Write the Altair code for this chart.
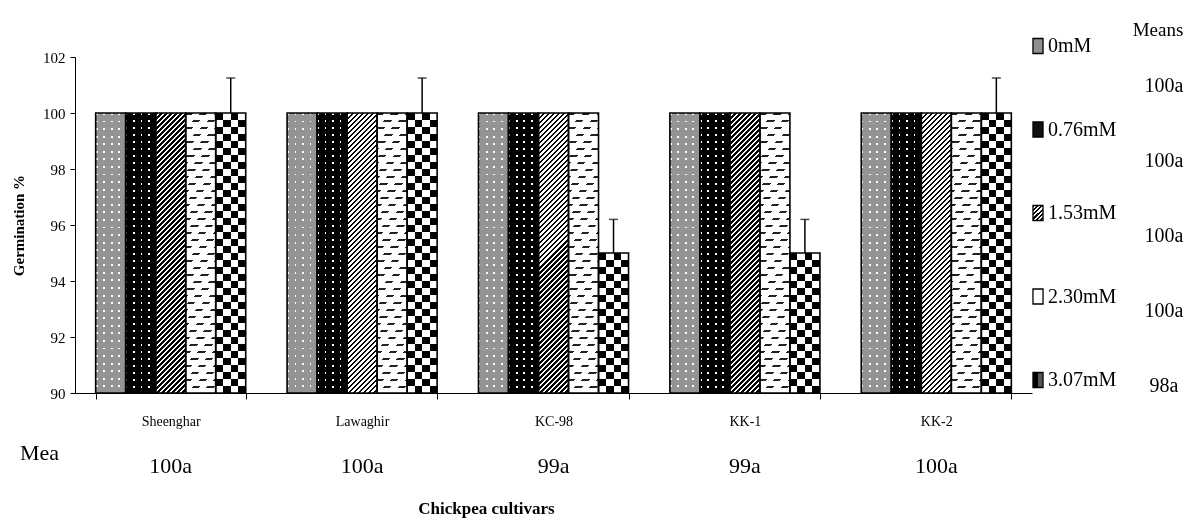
import altair as alt
import pandas as pd

# ---------------- data ----------------
cultivars = ["Sheenghar", "Lawaghir", "KC-98", "KK-1", "KK-2"]
treatments = ["0mM", "0.76mM", "1.53mM", "2.30mM", "3.07mM"]
germ_0mM = [100, 100, 100, 100, 100]
germ_076mM = [100, 100, 100, 100, 100]
germ_153mM = [100, 100, 100, 100, 100]
germ_230mM = [100, 100, 100, 100, 100]
germ_307mM = [100, 100, 95, 95, 100]
se_307mM = [1.25, 1.25, 1.2, 1.2, 1.25]
cultivar_means = ["100a", "100a", "99a", "99a", "100a"]
treatment_means = ["100a", "100a", "100a", "100a", "98a"]
y_ticks = [90, 92, 94, 96, 98, 100, 102]

series = dict(zip(treatments, [germ_0mM, germ_076mM, germ_153mM, germ_230mM, germ_307mM]))
errors = {"3.07mM": se_307mM}
rows = []
for t, vals in series.items():
    for c, v, e in zip(cultivars, vals, errors.get(t, [0] * len(cultivars))):
        rows.append({"cultivar": c, "treatment": t, "value": v, "err": e})
df = pd.DataFrame(rows)
cm_df = pd.DataFrame({"cultivar": cultivars, "mean": cultivar_means})
leg_df = pd.DataFrame({"treatment": treatments, "mean": treatment_means})

# ---------------- layout / style ----------------
FONT = "Liberation Serif"
W, H = 957, 336
Y_MIN, Y_MAX = 90, 102
P_IN, P_OUT = 0.216, 0.108
STEP = W / (len(cultivars) - P_IN + 2 * P_OUT)
BAR_W = STEP * (1 - P_IN) / len(treatments)


def bar_h(v):
    return (v - Y_MIN) / (Y_MAX - Y_MIN) * H


def grad(n, frac, on, off, x2, y2):
    stops = []
    for i in range(n):
        a, b, c = i / n, (i + frac) / n, (i + 1) / n
        stops += [(a, on), (b, on), (b, off), (c, off)]
    return alt.LinearGradient(
        gradient="linear",
        stops=[alt.GradientStop(offset=o, color=col) for o, col in stops],
        x1=0, y1=0, x2=x2, y2=y2,
    )


def xstripes(w, period, frac, on, off):
    return grad(max(1, round(w / period)), frac, on, off, 1, 0)


def ystripes(h, period, frac, on, off):
    return grad(max(1, round(h / period)), frac, on, off, 0, 1)


def diag(w, h, period_x, frac, on, off):
    a, b = w / h, 1.0
    k = (a + b) / (a * a + b * b)
    span = k * (a * a + b * b) / ((a / w) ** 2 + (b / h) ** 2) ** 0.5
    n = max(1, round(span / (period_x / 2 ** 0.5)))
    return grad(n, frac, on, off, a * k, b * k)


X_SCALE = alt.Scale(domain=cultivars, paddingInner=P_IN, paddingOuter=P_OUT)
XO_SCALE = alt.Scale(domain=treatments, paddingInner=0, paddingOuter=0)
Y_SCALE = alt.Scale(domain=[Y_MIN, Y_MAX], zero=False, nice=False)

X_AXIS = alt.Axis(
    title="Chickpea cultivars", labelAngle=0, tickBand="extent", tickSize=6,
    labelPadding=15, labelFontSize=14, titleFontSize=17, titleFontWeight="bold",
    titleX=411, titleY=115, titleBaseline="middle", titleAlign="center",
)
Y_AXIS = alt.Axis(
    title="Germination %", values=y_ticks, tickSize=5, labelPadding=5,
    labelFontSize=15, titleFontSize=15, titleFontWeight="bold",
    titleX=-57, titleY=H / 2, titleBaseline="middle", titleAlign="center",
)


def xenc():
    return alt.X("cultivar:N", scale=X_SCALE, axis=X_AXIS)


def xoenc():
    return alt.XOffset("treatment:N", scale=XO_SCALE)


def yenc(field="value:Q"):
    return alt.Y(field, scale=Y_SCALE, axis=Y_AXIS)


def bars(data, fill, blend=None):
    kw = {"fill": fill}
    if blend:
        kw["blend"] = blend
    return data.mark_bar(**kw).encode(
        x=xenc(), xOffset=xoenc(), y=yenc(), y2=alt.datum(Y_MIN)
    )


base = alt.Chart(df)
layers = []
for t in treatments:
    sub = base.transform_filter(alt.datum.treatment == t)
    for v in sorted(set(series[t])):
        part = sub.transform_filter(alt.datum.value == v)
        h = bar_h(v)
        if t == "0mM":
            layers.append(bars(part, xstripes(BAR_W, 7.5, 0.25, "#ffffff", "#949494")))
            layers.append(bars(part, ystripes(h, 7.5, 0.25, "#ffffff", "#949494"), "darken"))
        elif t == "0.76mM":
            layers.append(bars(part, xstripes(BAR_W, 7.5, 0.22, "#ffffff", "#000000")))
            layers.append(bars(part, ystripes(h, 7.0, 0.22, "#ffffff", "#000000"), "darken"))
        elif t == "1.53mM":
            layers.append(bars(part, diag(BAR_W, h, 5.0, 0.5, "#000000", "#ffffff")))
        elif t == "2.30mM":
            layers.append(bars(part, ystripes(h, 7.0, 0.3, "#222222", "#ffffff")))
            layers.append(bars(part, diag(BAR_W, h, 15.0, 0.5, "#000000", "#ffffff"), "lighten"))
        else:
            layers.append(bars(part, xstripes(BAR_W, 15.0, 0.5, "#000000", "#ffffff")))
            layers.append(bars(part, ystripes(h, 14.0, 0.5, "#000000", "#ffffff"), "difference"))

outline = base.mark_bar(fillOpacity=0, stroke="black", strokeWidth=1.6).encode(
    x=xenc(), xOffset=xoenc(), y=yenc(), y2=alt.datum(Y_MIN)
)

err_base = base.transform_filter(alt.datum.err > 0).transform_calculate(
    top="datum.value + datum.err"
)
err_rule = err_base.mark_rule(color="black", strokeWidth=1.5).encode(
    x=xenc(), xOffset=xoenc(), y=yenc(), y2="top:Q"
)
err_cap = err_base.mark_tick(
    orient="horizontal", size=9, thickness=1.5, color="black"
).encode(x=xenc(), xOffset=xoenc(), y=yenc("top:Q"))

cult_means = alt.Chart(cm_df).mark_text(fontSize=22, baseline="middle").encode(
    x=xenc(), y=alt.value(409), text="mean:N"
)
mea = alt.Chart(pd.DataFrame({"t": ["Mea"]})).mark_text(
    fontSize=22, align="left", baseline="middle"
).encode(x=alt.value(-55), y=alt.value(396), text="t:N")

main = alt.layer(*layers, outline, err_rule, err_cap, cult_means, mea)

# ---------------- legend ----------------
LY = alt.Y(
    "treatment:N",
    scale=alt.Scale(type="point", domain=treatments, range=[-11, 323], padding=0),
    axis=None,
)
MY = alt.Y(
    "treatment:N",
    scale=alt.Scale(type="point", domain=treatments, range=[29, 329], padding=0),
    axis=None,
)
SW_PATH = "M-0.67,-1H0.67V1H-0.67Z"
sw_fills = [
    "#8f8f8f",
    "#111111",
    diag(10, 15, 4.0, 0.5, "#000000", "#ffffff"),
    "#ffffff",
    xstripes(10, 10, 0.5, "#000000", "#555555"),
]
leg_base = alt.Chart(leg_df)
swatches = []
for t, f in zip(treatments, sw_fills):
    swatches.append(
        leg_base.transform_filter(alt.datum.treatment == t)
        .mark_point(shape=SW_PATH, size=225, filled=True, fill=f,
                    stroke="black", strokeWidth=1.3, opacity=1)
        .encode(x=alt.value(963), y=LY)
    )
leg_labels = leg_base.mark_text(fontSize=20, align="left", baseline="middle").encode(
    x=alt.value(973), y=LY, text="treatment:N"
)
leg_items = alt.layer(*swatches, leg_labels)
leg_means = leg_base.mark_text(fontSize=20, align="center", baseline="middle").encode(
    x=alt.value(1089), y=MY, text="mean:N"
)
means_head = alt.Chart(pd.DataFrame({"t": ["Means"]})).mark_text(
    fontSize=19, align="center", baseline="middle"
).encode(x=alt.value(1083), y=alt.value(-27), text="t:N")

legend = alt.layer(leg_items, leg_means, means_head).resolve_scale(y="independent")

chart = (
    alt.layer(main, legend)
    .resolve_scale(y="independent")
    .properties(
        width=W, height=H,
        autosize=alt.AutoSizeParams(type="none"),
        padding={"left": 67, "top": 49, "right": 155, "bottom": 126},
        background="white",
    )
    .configure_view(stroke=None)
    .configure_axis(
        labelFont=FONT, titleFont=FONT, domainColor="black", tickColor="black",
        labelColor="black", titleColor="black", grid=False, domainWidth=1,
    )
    .configure_text(font=FONT, color="black")
)

chart.save("out.html", embed_options={"renderer": "svg", "actions": False})
